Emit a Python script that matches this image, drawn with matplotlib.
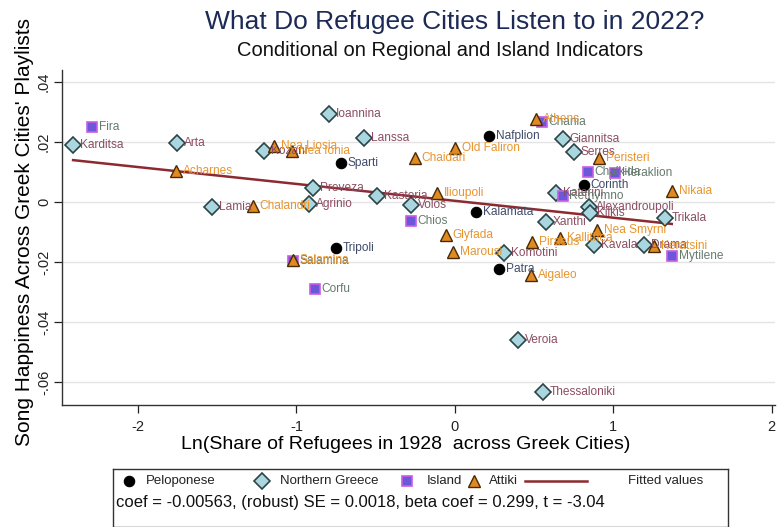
import numpy as np
import matplotlib
matplotlib.use("Agg")
import matplotlib.pyplot as plt

plt.rcParams["font.family"] = ["Liberation Sans", "DejaVu Sans"]

# --- data ---
PELO_NAMES = ["Nafplion", "Sparti", "Corinth", "Kalamata", "Tripoli", "Patra"]
PELO_X = [0.215, -0.72, 0.815, 0.133, -0.75, 0.278]
PELO_Y = [0.022, 0.013, 0.0058, -0.0033, -0.0152, -0.0222]

NORTH_NAMES = ["Karditsa", "Arta", "Ioannina", "Lanssa", "Kozani", "Lamia",
               "Preveza", "Agrinio", "Kastoria", "Volos", "Giannitsa", "Serres",
               "Katerini", "Xanthi", "Alexandroupoli", "Kilkis", "Komotini",
               "Kavala", "Drama", "Trikala", "Veroia", "Thessaloniki"]
NORTH_X = [-2.41, -1.756, -0.796, -0.575, -1.206, -1.535, -0.897, -0.922,
           -0.49, -0.278, 0.68, 0.75, 0.64, 0.575, 0.85, 0.855, 0.31, 0.878,
           1.194, 1.327, 0.398, 0.556]
NORTH_Y = [0.019, 0.0197, 0.0293, 0.0213, 0.017, -0.0017, 0.0047, -0.0007,
           0.002, -0.001, 0.021, 0.0167, 0.003, -0.0067, -0.0017, -0.0037,
           -0.017, -0.0143, -0.0143, -0.0053, -0.046, -0.0633]

ISLAND_NAMES = ["Fira", "Chania", "Chios", "Salamina", "Corfu", "Chalkida",
                "Heraklion", "Rethymno", "Mytilene"]
ISLAND_X = [-2.29, 0.55, -0.278, -1.023, -0.884, 0.84, 1.01, 0.68, 1.37]
ISLAND_Y = [0.025, 0.0267, -0.0063, -0.0197, -0.029, 0.010, 0.0097, 0.002, -0.018]

ATTIKI_NAMES = ["Athens", "Acharnes", "Nea Liosia", "Nea Ionia", "Chalandri",
                "Old Faliron", "Chaidari", "Ilioupoli", "Glyfada", "Marousi",
                "Piraeus", "Kallithea", "Nea Smyrni", "Aigaleo", "Peristeri",
                "Nikaia", "Keratsini", "Salamina"]
ATTIKI_X = [0.51, -1.76, -1.143, -1.03, -1.276, 0.0, -0.253, -0.114, -0.057,
            -0.013, 0.486, 0.663, 0.897, 0.48, 0.91, 1.37, 1.26, -1.023]
ATTIKI_Y = [0.0277, 0.0103, 0.0187, 0.017, -0.0013, 0.018, 0.0147, 0.003,
            -0.011, -0.0167, -0.0133, -0.012, -0.0093, -0.0243, 0.0147,
            0.0037, -0.0147, -0.0195]

FIT_COEF = -0.00563
FIT_CONST = 0.0004

X_TICKS = [-2, -1, 0, 1, 2]
Y_TICKS = [0.04, 0.02, 0, -0.02, -0.04, -0.06]
Y_TICKLABELS = [".04", ".02", "0", "-.02", "-.04", "-.06"]

STATS_TEXT = "coef = -0.00563, (robust) SE = 0.0018, beta coef = 0.299, t = -3.04"

# marker styles per group
groups = [
    ("Peloponese", PELO_NAMES, PELO_X, PELO_Y,
     dict(marker="o", ms=7.5, mfc="black", mec="black", mew=0.8), "#3f4a68"),
    ("Northern Greece", NORTH_NAMES, NORTH_X, NORTH_Y,
     dict(marker="D", ms=7.8, mfc="#a9d6df", mec="#2c4448", mew=1.2), "#8b4d62"),
    ("Island", ISLAND_NAMES, ISLAND_X, ISLAND_Y,
     dict(marker="s", ms=7.5, mfc="#6b57d8", mec="#c65ee6", mew=1.2), "#667a6e"),
    ("Attiki", ATTIKI_NAMES, ATTIKI_X, ATTIKI_Y,
     dict(marker="^", ms=8.5, mfc="#e08a22", mec="#4a2a05", mew=1.0), "#e8952f"),
]
FIT_COLOR = "#8c2a2f"

fig = plt.figure(figsize=(7.81, 5.27), dpi=100)
ax = fig.add_axes([0.0794, 0.2315, 0.9126, 0.6355])

for yt in Y_TICKS:
    ax.axhline(yt, color="#e4e4e4", linewidth=1.0, zorder=0)

# fitted line over the observed x-range
all_x = np.array(PELO_X + NORTH_X + ISLAND_X + ATTIKI_X)
fx = np.array([all_x.min(), all_x.max()])
ax.plot(fx, FIT_CONST + FIT_COEF * fx, color=FIT_COLOR, linewidth=1.8, zorder=2)

for gname, names, xs, ys, style, tcol in groups:
    ax.plot(xs, ys, linestyle="none", zorder=3, **style)
    for n, x, y in zip(names, xs, ys):
        ax.annotate(n, (x, y), xytext=(5, 0), textcoords="offset points",
                    va="center", ha="left", fontsize=8.6, color=tcol, zorder=4)

ax.set_xlim(-2.48, 2.02)
ax.set_ylim(-0.0677, 0.044)
ax.set_xticks(X_TICKS)
ax.set_xticklabels([str(t) for t in X_TICKS])
ax.set_yticks(Y_TICKS)
ax.set_yticklabels(Y_TICKLABELS, rotation=90, va="center")
ax.tick_params(axis="both", direction="out", length=6, width=0.9,
               labelsize=10.5, colors="#222222")
ax.tick_params(axis="x", pad=5)
ax.tick_params(axis="y", pad=2)
for s in ["top", "right"]:
    ax.spines[s].set_visible(False)
for s in ["left", "bottom"]:
    ax.spines[s].set_color("#333333")
    ax.spines[s].set_linewidth(1.0)

ax.set_xlabel("Ln(Share of Refugees in 1928  across Greek Cities)", fontsize=14,
              labelpad=1)
ax.xaxis.label.set_x(0.482)
ax.set_ylabel("Song Happiness Across Greek Cities' Playlists", fontsize=15,
              labelpad=2)
ax.yaxis.label.set_y(0.516)

fig.text(455 / 781, 0.958, "What Do Refugee Cities Listen to in 2022?",
         ha="center", va="center", fontsize=19, color="#1c2a55")
fig.text(440 / 781, 0.905, "Conditional on Regional and Island Indicators",
         ha="center", va="center", fontsize=14.5, color="#111111")

# legend box at the bottom (drawn in pixel-like coords)
lax = fig.add_axes([113 / 781, 0, 615 / 781, 58 / 527])
lax.set_xlim(113, 728)
lax.set_ylim(527, 469)
lax.set_xticks([])
lax.set_yticks([])
for s in lax.spines.values():
    s.set_color("#333333")
    s.set_linewidth(1.0)
leg_pos = [(129, 146), (262, 280), (407, 427), (474, 489)]
for (gname, _, _, _, style, _), (mx, tx) in zip(groups, leg_pos):
    lax.plot([mx], [481], linestyle="none", **style)
    lax.text(tx, 481, gname, va="center", ha="left", fontsize=9.5, color="#222222")
lax.plot([525, 587], [481, 481], color=FIT_COLOR, linewidth=1.8)
lax.text(628, 481, "Fitted values", va="center", ha="left", fontsize=9.5,
         color="#222222")
lax.text(116, 503, STATS_TEXT, va="center", ha="left", fontsize=12,
         color="#111111")

fig.savefig("out.png", dpi=100)
